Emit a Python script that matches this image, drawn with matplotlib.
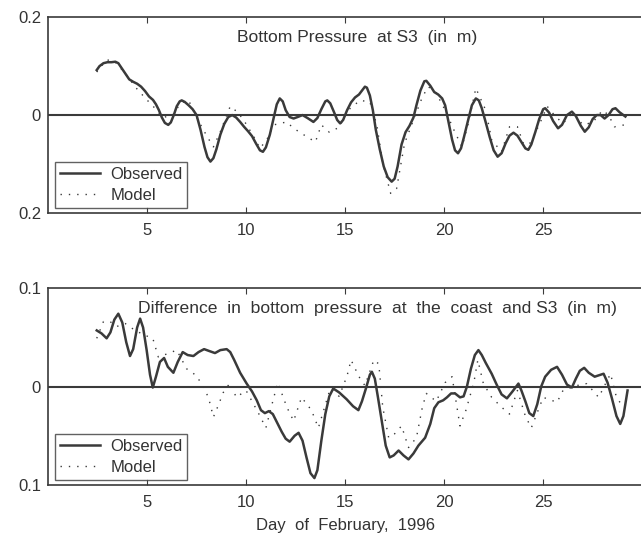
import numpy as np
import matplotlib
matplotlib.use('Agg')
import matplotlib.pyplot as plt

plt.rcParams['font.family'] = ['Liberation Sans', 'DejaVu Sans']

# Data
# top panel: bottom pressure at S3 (m)
obs1_day = [2.46, 2.6, 2.8, 3.0, 3.2, 3.4, 3.55, 3.7, 3.9, 4.1, 4.3, 4.5, 4.7, 4.9, 5.1, 5.3,
            5.45, 5.6, 5.75, 5.9, 6.07, 6.2, 6.35, 6.5, 6.65, 6.75, 6.9, 7.1, 7.3, 7.5, 7.7,
            7.9, 8.05, 8.2, 8.35, 8.5, 8.7, 8.9, 9.1, 9.3, 9.5, 9.7, 9.9, 10.1, 10.3, 10.5, 10.7,
            10.85, 11.0, 11.2, 11.4, 11.55, 11.7, 11.85, 12.0, 12.2, 12.4, 12.6, 12.85, 13.1,
            13.4, 13.6, 13.8, 14.0, 14.1, 14.25, 14.45, 14.6, 14.75, 14.9, 15.1, 15.3, 15.5,
            15.7, 15.85, 16.0, 16.1, 16.25, 16.4, 16.55, 16.75, 16.95, 17.15, 17.35, 17.5,
            17.65, 17.85, 18.05, 18.25, 18.45, 18.6, 18.8, 19.0, 19.1, 19.3, 19.5, 19.7, 19.9,
            20.05, 20.2, 20.4, 20.55, 20.7, 20.85, 21.0, 21.2, 21.4, 21.6, 21.75, 21.9, 22.1,
            22.3, 22.5, 22.7, 22.9, 23.1, 23.3, 23.5, 23.7, 23.9, 24.1, 24.25, 24.4, 24.6, 24.8,
            25.0, 25.1, 25.3, 25.5, 25.75, 25.95, 26.2, 26.45, 26.65, 26.9, 27.1, 27.3, 27.5,
            27.7, 27.9, 28.1, 28.3, 28.5, 28.65, 28.85, 29.15]
obs1_val = [0.092, 0.1, 0.106, 0.108, 0.108, 0.109, 0.106, 0.097, 0.085, 0.073, 0.068, 0.064,
            0.058, 0.049, 0.038, 0.031, 0.022, 0.01, -0.005, -0.016, -0.02, -0.015, 0.0, 0.018,
            0.028, 0.03, 0.027, 0.02, 0.012, 0.0, -0.03, -0.065, -0.086, -0.095, -0.088, -0.07,
            -0.04, -0.018, -0.004, 0.0, -0.005, -0.014, -0.024, -0.033, -0.043, -0.058, -0.072,
            -0.075, -0.066, -0.04, -0.005, 0.022, 0.034, 0.028, 0.01, -0.004, -0.007, -0.004,
            0.0, -0.006, -0.014, -0.006, 0.012, 0.028, 0.03, 0.024, 0.005, -0.01, -0.017, -0.01,
            0.01, 0.026, 0.036, 0.042, 0.05, 0.058, 0.056, 0.04, 0.01, -0.03, -0.07, -0.105,
            -0.127, -0.136, -0.13, -0.105, -0.06, -0.035, -0.022, -0.005, 0.02, 0.05, 0.069,
            0.07, 0.06, 0.047, 0.042, 0.034, 0.02, -0.01, -0.05, -0.072, -0.078, -0.068, -0.045,
            -0.012, 0.02, 0.034, 0.03, 0.014, -0.015, -0.045, -0.072, -0.085, -0.078, -0.058,
            -0.042, -0.036, -0.042, -0.055, -0.068, -0.071, -0.06, -0.035, -0.008, 0.012, 0.014,
            0.005, -0.012, -0.027, -0.02, 0.0, 0.007, -0.002, -0.022, -0.034, -0.025, -0.008,
            0.0, 0.0, -0.007, 0.0, 0.012, 0.014, 0.006, -0.003]
mod1_day = [2.46, 2.7, 2.96, 3.38, 3.9, 4.48, 4.9, 5.4, 5.8, 6.3, 6.7, 7.1, 7.45, 7.8, 8.05,
            8.35, 8.7, 9.2, 9.6, 10.0, 10.4, 10.7, 11.05, 11.4, 12.05, 12.4, 12.9, 13.5, 13.8,
            14.2, 14.7, 15.15, 15.75, 16.25, 16.6, 16.9, 17.3, 17.6, 18.0, 18.45, 18.9, 19.2,
            19.6, 20.05, 20.5, 20.9, 21.2, 21.6, 22.1, 22.4, 22.9, 23.3, 23.7, 24.0, 24.3, 24.8,
            25.2, 25.6, 26.0, 26.5, 27.0, 27.5, 28.0, 28.3, 28.6, 29.1]
mod1_val = [0.088, 0.1, 0.113, 0.109, 0.085, 0.054, 0.035, 0.014, -0.005, 0.0, 0.025, 0.03,
            0.0, -0.027, -0.045, -0.065, -0.034, 0.018, 0.005, -0.018, -0.045, -0.068, -0.05,
            -0.02, -0.014, -0.027, -0.04, -0.055, -0.02, -0.035, -0.025, 0.01, 0.03, 0.027,
            -0.02, -0.098, -0.16, -0.15, -0.058, -0.01, 0.037, 0.058, 0.045, 0.01, -0.031,
            -0.065, -0.02, 0.055, 0.01, -0.051, -0.075, -0.024, -0.024, -0.058, -0.06, -0.02,
            0.018, -0.002, -0.017, 0.005, -0.02, -0.015, 0.01, 0.0, -0.024, -0.02]

# bottom panel: difference coast minus S3 (m)
obs2_day = [2.46, 2.7, 2.96, 3.15, 3.35, 3.55, 3.75, 3.95, 4.14, 4.3, 4.5, 4.65, 4.8, 4.98,
            5.15, 5.29, 5.45, 5.65, 5.86, 6.05, 6.33, 6.55, 6.8, 7.05, 7.34, 7.6, 7.88, 8.15,
            8.43, 8.7, 9.02, 9.2, 9.4, 9.7, 10.03, 10.3, 10.54, 10.75, 10.95, 11.15, 11.35,
            11.55, 11.8, 12.0, 12.2, 12.45, 12.65, 12.85, 13.05, 13.25, 13.45, 13.6, 13.8, 14.0,
            14.2, 14.4, 14.7, 15.08, 15.4, 15.67, 15.85, 16.05, 16.25, 16.35, 16.5, 16.65, 16.85,
            17.05, 17.25, 17.45, 17.7, 17.95, 18.2, 18.45, 18.7, 19.04, 19.3, 19.5, 19.71, 19.95,
            20.14, 20.35, 20.55, 20.8, 20.98, 21.15, 21.35, 21.55, 21.73, 21.9, 22.1, 22.4,
            22.65, 22.9, 23.17, 23.45, 23.75, 23.9, 24.1, 24.3, 24.5, 24.7, 24.9, 25.1, 25.4,
            25.7, 25.95, 26.2, 26.45, 26.65, 26.85, 27.07, 27.3, 27.6, 28.05, 28.25, 28.47,
            28.7, 28.89, 29.05, 29.26]
obs2_val = [0.057, 0.054, 0.049, 0.055, 0.068, 0.074, 0.065, 0.045, 0.031, 0.038, 0.06, 0.069,
            0.06, 0.037, 0.012, -0.001, 0.01, 0.025, 0.029, 0.02, 0.014, 0.025, 0.035, 0.032,
            0.031, 0.035, 0.038, 0.036, 0.034, 0.037, 0.038, 0.035, 0.027, 0.014, 0.003, -0.005,
            -0.014, -0.024, -0.027, -0.025, -0.028, -0.036, -0.046, -0.053, -0.056, -0.05,
            -0.047, -0.055, -0.072, -0.088, -0.093, -0.085, -0.055, -0.028, -0.01, -0.002,
            -0.006, -0.013, -0.02, -0.024, -0.015, -0.002, 0.012, 0.015, 0.008, -0.01, -0.035,
            -0.06, -0.072, -0.07, -0.065, -0.07, -0.074, -0.068, -0.06, -0.052, -0.038, -0.022,
            -0.016, -0.014, -0.011, -0.007, -0.007, -0.011, -0.01, 0.0, 0.018, 0.032, 0.037,
            0.032, 0.024, 0.013, 0.002, -0.008, -0.012, -0.005, 0.003, -0.004, -0.015, -0.027,
            -0.03, -0.018, 0.0, 0.01, 0.017, 0.02, 0.012, 0.002, -0.001, 0.008, 0.016, 0.019,
            0.014, 0.01, 0.013, 0.004, -0.012, -0.03, -0.038, -0.03, -0.004]
mod2_day = [2.46, 2.8, 3.13, 3.47, 3.9, 4.4, 4.9, 5.29, 5.57, 5.99, 6.5, 7.0, 7.5, 7.85, 8.1,
            8.35, 8.6, 8.85, 9.2, 9.5, 10.0, 10.6, 11.0, 11.4, 11.6, 12.06, 12.4, 12.8, 13.3,
            13.65, 14.25, 14.7, 15.1, 15.3, 15.7, 16.0, 16.45, 16.7, 16.9, 17.2, 17.5, 17.85,
            18.2, 18.6, 18.9, 19.1, 19.6, 20.05, 20.4, 20.8, 21.1, 21.5, 21.7, 21.98, 22.4,
            22.9, 23.3, 23.7, 24.1, 24.4, 25.0, 25.7, 26.0, 26.7, 27.2, 27.8, 28.4, 28.7, 29.05]
mod2_val = [0.049, 0.066, 0.066, 0.061, 0.064, 0.057, 0.052, 0.049, 0.03, 0.033, 0.037, 0.018,
            0.011, -0.001, -0.011, -0.031, -0.019, -0.006, 0.004, -0.011, -0.004, -0.026,
            -0.042, -0.011, 0.004, -0.021, -0.035, -0.011, -0.024, -0.042, -0.002, -0.01,
            0.011, 0.027, 0.01, 0.001, 0.027, 0.023, -0.021, -0.052, -0.048, -0.04, -0.062,
            -0.052, -0.021, -0.007, -0.015, 0.004, 0.01, -0.04, -0.024, 0.004, 0.027, 0.003,
            -0.011, -0.021, -0.028, -0.004, -0.03, -0.042, -0.011, -0.016, -0.004, 0.001, 0.003,
            -0.011, 0.013, -0.011, -0.021]

xticks = [5, 10, 15, 20, 25]
line_col = '#3a3a3a'
txt_col = '#333333'

fig = plt.figure(figsize=(6.41, 5.35), dpi=100)
ax1 = fig.add_axes([0.0749, 0.6019, 0.927, 0.366])
ax2 = fig.add_axes([0.0749, 0.0935, 0.927, 0.368])

panels = [
    (ax1, obs1_day, obs1_val, mod1_day, mod1_val, 0.2, 'Bottom Pressure  at S3  (in  m)', 0.52),
    (ax2, obs2_day, obs2_val, mod2_day, mod2_val, 0.1,
     'Difference  in  bottom  pressure  at  the  coast  and S3  (in  m)', 0.554),
]
for ax, od, ov, md, mv, lim, title, tx in panels:
    ax.axhline(0, color=line_col, lw=1.5)
    ax.plot(od, ov, color=line_col, lw=1.8, label='Observed', solid_joinstyle='round')
    ax.plot(md, mv, color=line_col, lw=1.0, linestyle=(0, (1, 5)), label='Model')
    ax.set_xlim(0, 30)
    ax.set_ylim(-lim, lim)
    ax.set_xticks(xticks)
    ax.set_yticks([-lim, 0, lim])
    ax.set_yticklabels(['%g' % lim, '0', '%g' % lim])
    ax.tick_params(axis='x', direction='in', top=True, length=4, width=0.8,
                   colors=line_col, labelcolor=txt_col, labelsize=12, pad=7)
    ax.tick_params(axis='y', length=0, labelcolor=txt_col, labelsize=12, pad=5)
    for s in ['left', 'top', 'bottom']:
        ax.spines[s].set_color(line_col)
        ax.spines[s].set_linewidth(1.2)
    ax.spines['right'].set_visible(False)
    ax.text(tx, 0.898, title, transform=ax.transAxes, ha='center', va='center',
            fontsize=12.6, color=txt_col)
    leg = ax.legend(loc='lower left', bbox_to_anchor=(0.012, 0.025), borderaxespad=0,
                    fontsize=12, frameon=True, fancybox=False, handlelength=2.4,
                    handletextpad=0.6, borderpad=0.3, labelspacing=0.35)
    leg.get_frame().set_edgecolor(line_col)
    leg.get_frame().set_linewidth(1.0)
    for t in leg.get_texts():
        t.set_color(txt_col)

ax2.set_xlabel('Day  of  February,  1996', fontsize=12, color=txt_col, labelpad=6)

plt.savefig('out.png', dpi=100)
